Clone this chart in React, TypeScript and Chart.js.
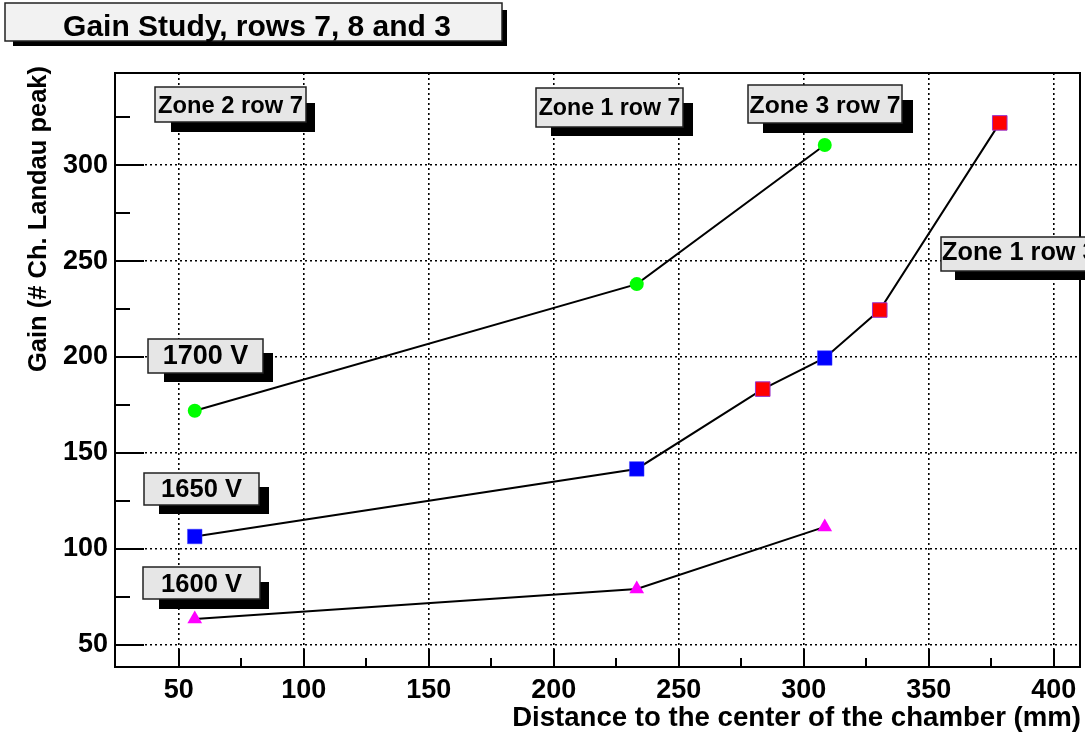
import React, { useEffect, useRef } from "react";
import { Chart, registerables } from "chart.js";

Chart.register(...registerables);

// ---------- data ----------
const distance = [56.4, 233.2, 308.4];
const gain1700 = [172, 238, 310.5];
const gain1650 = [106.5, 141.7, 199.5];
const gain1600 = [63.5, 79.2, 111.5];
const distanceRow3 = [283.6, 330.4, 378.4];
const gainRow3 = [183.3, 224.5, 322];

const xTickValues = [50, 100, 150, 200, 250, 300, 350, 400];
const xMinorValues = [75, 125, 175, 225, 275, 325, 375];
const yTickValues = [50, 100, 150, 200, 250, 300];
const yMinorValues = [75, 125, 175, 225, 275, 325];

const titleText = "Gain Study, rows 7, 8 and 3";
const xTitle = "Distance to the center of the chamber (mm)";
const yTitle = "Gain (# Ch. Landau peak)";

const labelTexts = ["Zone 2 row 7", "Zone 1 row 7", "Zone 3 row 7", "Zone 1 row 3", "1700 V", "1650 V", "1600 V"];

// ---------- layout (pixels) ----------
const FONT = '"Liberation Sans", Arial, Helvetica, sans-serif';
const labelLayout = [
  { box: [155, 87, 306, 122], shadow: [171, 103, 315, 132], size: 23.7, base: 113, align: "center" },
  { box: [536, 88, 683, 127], shadow: [551, 103, 693, 136], size: 23.2, base: 115, align: "center" },
  { box: [748, 85, 902, 123], shadow: [763, 100, 913, 133], size: 24.7, base: 113, align: "center" },
  { box: [941, 237, 1110, 271], shadow: [955, 251, 1120, 280], size: 25.3, base: 260, align: "left" },
  { box: [148, 339, 263, 373], shadow: [164, 353, 273, 382], size: 27, base: 364, align: "center" },
  { box: [144, 473, 259, 505], shadow: [159, 487, 269, 514], size: 25.5, base: 497, align: "center" },
  { box: [143, 567, 260, 599], shadow: [159, 582, 269, 609], size: 25.5, base: 592, align: "center" },
];

const toPoints = (xs: number[], ys: number[]) => xs.map((x, i) => ({ x, y: ys[i] }));

const decorPlugin = {
  id: "rootDecor",
  afterDatasetsDraw(chart: any) {
    const ctx = chart.ctx as CanvasRenderingContext2D;
    const { left, right, top, bottom } = chart.chartArea;
    const xs = chart.scales.x;
    const ys = chart.scales.y;
    ctx.save();
    // frame
    ctx.strokeStyle = "#000";
    ctx.lineWidth = 2;
    ctx.setLineDash([]);
    ctx.strokeRect(left, top, right - left, bottom - top);
    // ticks
    ctx.lineWidth = 2;
    ctx.beginPath();
    xTickValues.forEach((v) => {
      const p = Math.round(xs.getPixelForValue(v));
      ctx.moveTo(p, bottom);
      ctx.lineTo(p, bottom - 18);
    });
    xMinorValues.forEach((v) => {
      const p = Math.round(xs.getPixelForValue(v));
      ctx.moveTo(p, bottom);
      ctx.lineTo(p, bottom - 9);
    });
    yTickValues.forEach((v) => {
      const p = Math.round(ys.getPixelForValue(v));
      ctx.moveTo(left, p);
      ctx.lineTo(left + 29, p);
    });
    yMinorValues.forEach((v) => {
      const p = Math.round(ys.getPixelForValue(v));
      ctx.moveTo(left, p);
      ctx.lineTo(left + 15, p);
    });
    ctx.stroke();

    // label boxes
    labelLayout.forEach((l, i) => {
      const [x1, y1, x2, y2] = l.box;
      const [sx1, sy1, sx2, sy2] = l.shadow;
      ctx.fillStyle = "#000";
      ctx.fillRect(sx1, sy1, sx2 - sx1, sy2 - sy1);
      ctx.fillStyle = "#e6e6e6";
      ctx.fillRect(x1, y1, x2 - x1, y2 - y1);
      ctx.lineWidth = 1.5;
      ctx.strokeStyle = "#222";
      ctx.strokeRect(x1, y1, x2 - x1, y2 - y1);
      ctx.fillStyle = "#000";
      ctx.font = `bold ${l.size}px ${FONT}`;
      ctx.textBaseline = "alphabetic";
      if (l.align === "left") {
        ctx.textAlign = "left";
        ctx.fillText(labelTexts[i], x1 + 1, l.base);
      } else {
        ctx.textAlign = "center";
        ctx.fillText(labelTexts[i], (x1 + x2) / 2, l.base);
      }
    });

    // title box
    ctx.fillStyle = "#000";
    ctx.fillRect(13, 10, 507 - 13, 46 - 10);
    ctx.fillStyle = "#f2f2f2";
    ctx.fillRect(5, 3, 502 - 5, 41 - 3);
    ctx.strokeStyle = "#222";
    ctx.lineWidth = 1.5;
    ctx.strokeRect(5, 3, 502 - 5, 41 - 3);
    ctx.fillStyle = "#000";
    ctx.font = `bold 30px ${FONT}`;
    ctx.textAlign = "center";
    ctx.fillText(titleText, 257, 36);

    // axis titles
    ctx.font = `bold 27.6px ${FONT}`;
    ctx.textAlign = "right";
    ctx.fillText(xTitle, 1081, 726);

    ctx.save();
    ctx.translate(39, 219);
    ctx.rotate(-Math.PI / 2);
    ctx.font = `bold 25.5px ${FONT}`;
    ctx.textAlign = "center";
    ctx.textBaseline = "middle";
    ctx.fillText(yTitle, 0, 0);
    ctx.restore();

    ctx.restore();
  },
};

export default function App() {
  const canvasRef = useRef<HTMLCanvasElement | null>(null);

  useEffect(() => {
    document.body.style.margin = "0";
    const canvas = canvasRef.current;
    if (!canvas) return;

    const mergedLine = [...toPoints(distance, gain1650), ...toPoints(distanceRow3, gainRow3)].sort((a, b) => a.x - b.x);

    const chart = new Chart(canvas, {
      type: "scatter",
      data: {
        datasets: [
          {
            label: "1700 V",
            data: toPoints(distance, gain1700),
            showLine: true,
            borderColor: "#000",
            borderWidth: 2,
            pointStyle: "circle",
            pointRadius: 7,
            pointBackgroundColor: "#00ff00",
            pointBorderColor: "#00ff00",
            pointBorderWidth: 0,
            order: 2,
          },
          {
            label: "1650 V + row 3 line",
            data: mergedLine,
            showLine: true,
            borderColor: "#000",
            borderWidth: 2,
            pointRadius: 0,
            order: 5,
          },
          {
            label: "1650 V",
            data: toPoints(distance, gain1650),
            showLine: false,
            pointStyle: "rect",
            pointRadius: 10.3,
            pointBackgroundColor: "#0000ff",
            pointBorderColor: "#4444ff",
            pointBorderWidth: 0.5,
            order: 1,
          },
          {
            label: "Zone 1 row 3",
            data: toPoints(distanceRow3, gainRow3),
            showLine: false,
            pointStyle: "rect",
            pointRadius: 10.3,
            pointBackgroundColor: "#ff0000",
            pointBorderColor: "#9933cc",
            pointBorderWidth: 1,
            order: 1,
          },
          {
            label: "1600 V",
            data: toPoints(distance, gain1600),
            showLine: true,
            borderColor: "#000",
            borderWidth: 2,
            pointStyle: "triangle",
            pointRadius: 8.5,
            pointBackgroundColor: "#ff00ff",
            pointBorderColor: "#ff00ff",
            pointBorderWidth: 0,
            order: 2,
          },
        ],
      },
      options: {
        responsive: false,
        animation: false,
        devicePixelRatio: 1,
        layout: { autoPadding: false, padding: { left: 0, right: 5, top: 73, bottom: 0 } },
        plugins: {
          legend: { display: false },
          tooltip: { enabled: false },
          title: { display: false },
        },
        scales: {
          x: {
            type: "linear",
            min: 24.5,
            max: 410.5,
            afterBuildTicks: (scale: any) => {
              scale.ticks = xTickValues.map((v) => ({ value: v }));
            },
            afterFit: (scale: any) => {
              scale.height = 66;
              scale.paddingLeft = 0;
              scale.paddingRight = 0;
            },
            ticks: {
              color: "#000",
              padding: 7,
              maxRotation: 0,
              autoSkip: false,
              font: { family: FONT, size: 27, weight: "bold" },
            },
            grid: { color: "#000", lineWidth: 1.6, drawTicks: false },
            border: { display: false, dash: [2, 3] },
          },
          y: {
            type: "linear",
            min: 38.5,
            max: 348,
            afterBuildTicks: (scale: any) => {
              scale.ticks = yTickValues.map((v) => ({ value: v }));
            },
            afterFit: (scale: any) => {
              scale.width = 115;
              scale.paddingTop = 0;
              scale.paddingBottom = 0;
            },
            ticks: {
              color: "#000",
              padding: 7,
              autoSkip: false,
              font: { family: FONT, size: 27, weight: "bold" },
            },
            grid: { color: "#000", lineWidth: 1.6, drawTicks: false },
            border: { display: false, dash: [2, 3] },
          },
        },
      },
      plugins: [decorPlugin],
    } as any);

    return () => chart.destroy();
  }, []);

  return (
    <div style={{ position: "absolute", left: 0, top: 0, width: 1085, height: 733, background: "#fff" }}>
      <canvas ref={canvasRef} width={1085} height={733} style={{ display: "block" }} />
    </div>
  );
}
